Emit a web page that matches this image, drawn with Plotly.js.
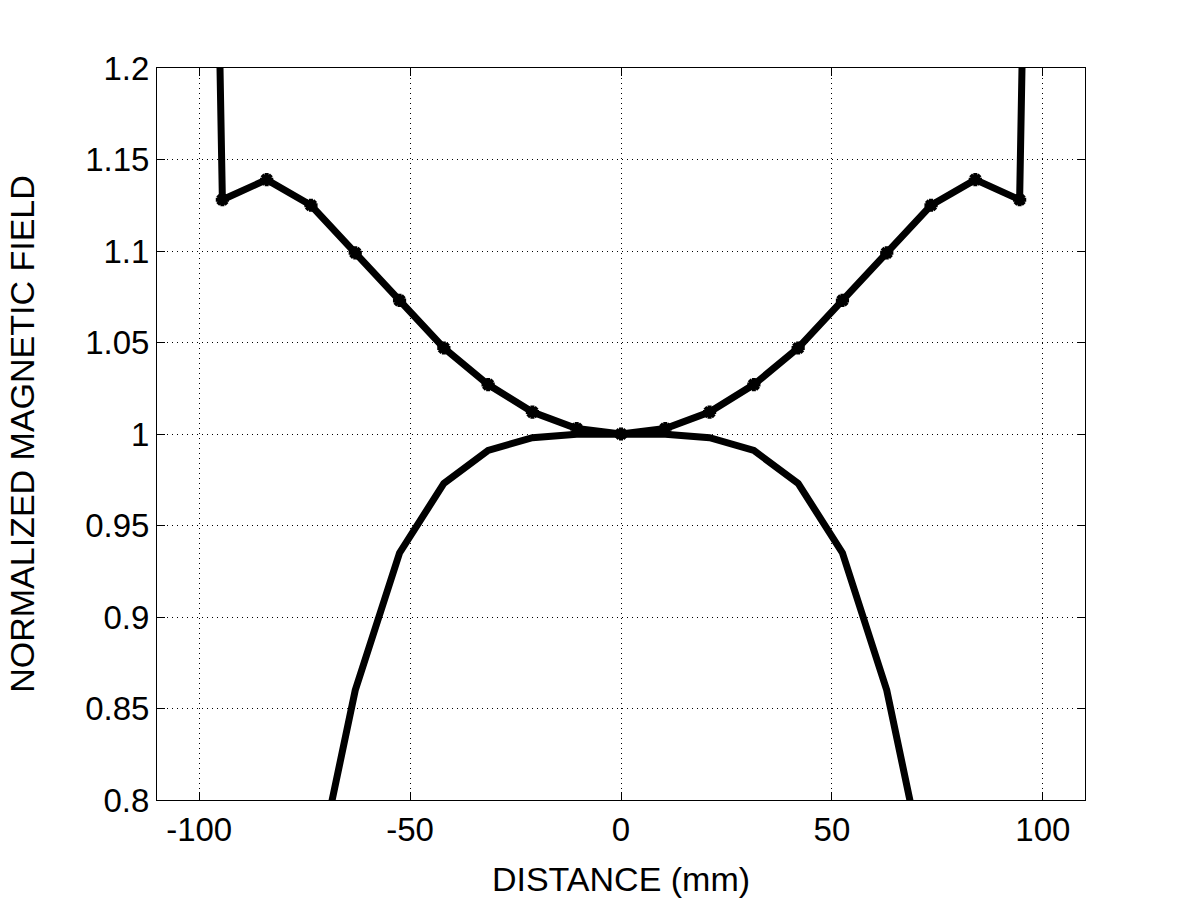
<!DOCTYPE html>
<html>
<head>
<meta charset="utf-8">
<script src="https://cdn.plot.ly/plotly-3.0.1.min.js"></script>
<style>
html, body { margin: 0; padding: 0; background: #fff; }
#chart { width: 1200px; height: 900px; }
</style>
</head>
<body>
<div id="chart"></div>
<script>
// Distance positions (mm) of the measured points
const distanceUpper = [-96, -94.5, -84, -73.5, -63, -52.5, -42, -31.5, -21, -10.5, 0, 10.5, 21, 31.5, 42, 52.5, 63, 73.5, 84, 94.5, 96];
const fieldUpper = [1.32, 1.128, 1.139, 1.125, 1.099, 1.073, 1.047, 1.027, 1.012, 1.003, 1.0, 1.003, 1.012, 1.027, 1.047, 1.073, 1.099, 1.125, 1.139, 1.128, 1.32];

const distanceLower = [-73.5, -63, -52.5, -42, -31.5, -21, -10.5, 0, 10.5, 21, 31.5, 42, 52.5, 63, 73.5];
const fieldLower = [0.745, 0.860, 0.935, 0.973, 0.991, 0.998, 0.9998, 1.0, 0.9998, 0.998, 0.991, 0.973, 0.935, 0.860, 0.745];

const xTickVals = [-100, -50, 0, 50, 100];
const xTickText = ['-100', '-50', '0', '50', '100'];
const yTickVals = [0.8, 0.85, 0.9, 0.95, 1.0, 1.05, 1.1, 1.15, 1.2];
const yTickText = ['0.8', '0.85', '0.9', '0.95', '1', '1.05', '1.1', '1.15', '1.2'];

const FONT = 'Liberation Sans, Arial, Helvetica, sans-serif';

const traces = [
  {
    x: distanceLower, y: fieldLower,
    type: 'scatter', mode: 'lines',
    line: { color: '#000', width: 7 },
    showlegend: false, hoverinfo: 'skip'
  },
  {
    x: distanceUpper, y: fieldUpper,
    type: 'scatter', mode: 'lines+markers',
    line: { color: '#000', width: 7 },
    marker: { symbol: 'asterisk-open', size: 11, color: '#000', line: { color: '#000', width: 4 } },
    showlegend: false, hoverinfo: 'skip'
  }
];

const axisCommon = {
  showline: true, linecolor: '#000', linewidth: 1, mirror: 'ticks',
  ticks: 'inside', ticklen: 8, tickwidth: 1, tickcolor: '#000',
  showgrid: true, gridcolor: '#000', gridwidth: 1, griddash: '1px,4px',
  zeroline: false,
  tickfont: { family: FONT, size: 33, color: '#000' },
  tickmode: 'array'
};

const layout = {
  width: 1200, height: 900,
  paper_bgcolor: '#fff', plot_bgcolor: '#fff',
  margin: { l: 157, r: 115, t: 68, b: 100, autoexpand: false },
  showlegend: false,
  xaxis: Object.assign({}, axisCommon, {
    range: [-110, 110],
    tickvals: xTickVals, ticktext: xTickText,
    automargin: false,
    title: { text: 'DISTANCE (mm)', font: { family: FONT, size: 34, color: '#000' }, standoff: 20 }
  }),
  yaxis: Object.assign({}, axisCommon, {
    range: [0.8, 1.2],
    tickvals: yTickVals, ticktext: yTickText,
    automargin: false,
    title: { text: 'NORMALIZED MAGNETIC FIELD', font: { family: FONT, size: 34, color: '#000' }, standoff: 40 }
  })
};

Plotly.newPlot('chart', traces, layout, { staticPlot: true, displayModeBar: false });
</script>
</body>
</html>
